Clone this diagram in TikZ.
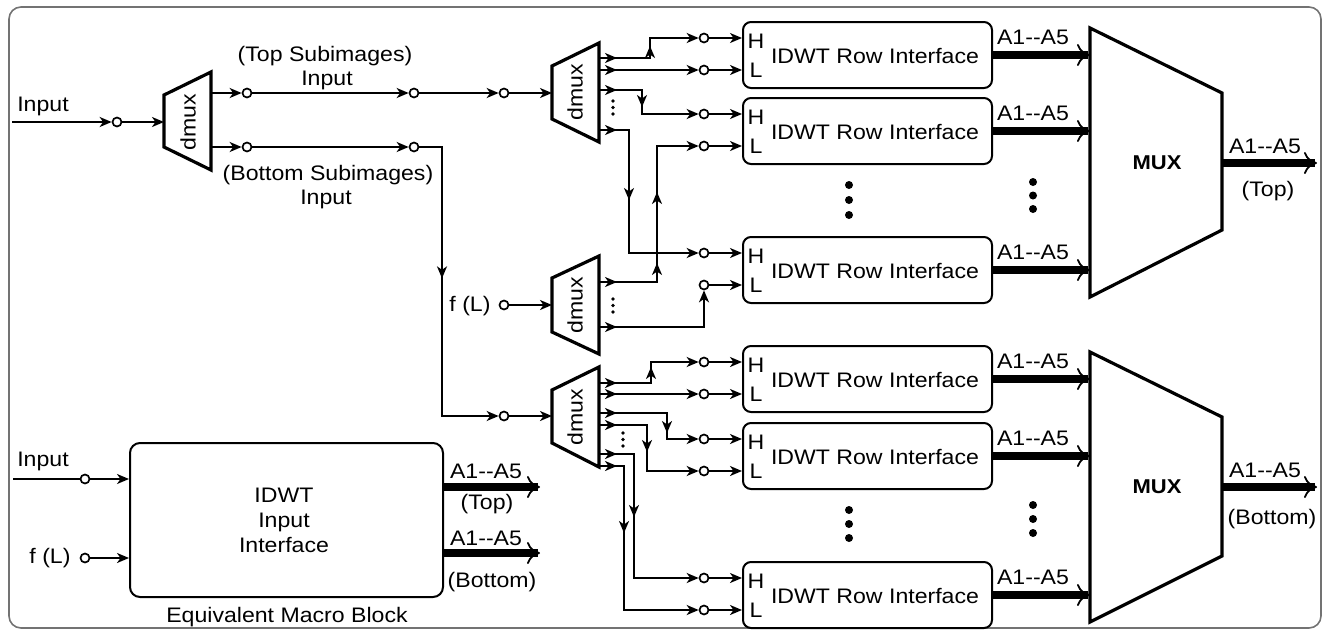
\documentclass[tikz,border=0pt]{standalone}
\usepackage{fontspec}
\setmainfont[FakeStretch=1.1]{Liberation Sans}
\usetikzlibrary{arrows.meta,decorations.markings}

\tikzset{
  wire/.style={line width=1.8pt},
  arr/.style={wire,-{Stealth[length=12pt,width=10pt,inset=3.5pt]}},
  am/.style={postaction={decorate,decoration={markings,
      mark=at position #1 with {\arrow{Stealth[length=12pt,width=10pt,inset=3.5pt]}}}}},
  port/.style={circle,draw,fill=white,line width=1.7pt,minimum size=9pt,inner sep=0pt},
  lbl/.style={font=\fontsize{21}{24}\selectfont,inner sep=0pt,anchor=base},
  rowbox/.style={draw,line width=2pt,rounded corners=8pt,minimum width=249pt,
      minimum height=66pt,inner sep=0pt},
  trap/.style={draw,line width=3.2pt,line join=miter},
  bus/.style={line width=8pt,-{Computer Modern Rightarrow[length=13pt,width=22pt,line width=1.8pt]}},
}

\begin{document}
\begin{tikzpicture}[x=1pt,y=-1pt]
\useasboundingbox (0,0) rectangle (1324,630);

% outer frame
\draw[black!55,line width=1.6pt,rounded corners=12pt] (9,7) rectangle (1321,628);

% ---------- first splitter ----------
\draw[trap] (164,95) -- (211,72) -- (211,170) -- (164,147) -- cycle;
\node[lbl,anchor=center,rotate=90] (dm1) at (188,122) {dmux};
\coordinate (in0) at (12,122);
\coordinate (dm1i) at (164,122);
\coordinate (dm1a) at (211,93);
\coordinate (dm1b) at (211,147);
\node[port] (c0) at (117,122) {};
\draw[arr] (in0) -- (c0);
\draw[arr] (c0) -- (dm1i);
\node[lbl] (tin) at (43,111) {Input};

% ---------- splitters feeding the row interfaces ----------
\draw[trap] (552,66) -- (599,43) -- (599,142) -- (552,119) -- cycle;
\node[lbl,anchor=center,rotate=90] (dm2) at (575,92) {dmux};
\draw[trap] (552,278) -- (599,256) -- (599,354) -- (552,332) -- cycle;
\node[lbl,anchor=center,rotate=90] (dm4) at (575,305) {dmux};
\draw[trap] (552,390) -- (599,367) -- (599,467) -- (552,443) -- cycle;
\node[lbl,anchor=center,rotate=90] (dm3) at (575,417) {dmux};

\coordinate (dm2i) at (552,93);
\coordinate (dm4i) at (552,305);
\coordinate (dm3i) at (552,416);

% top / bottom subimage paths
\node[port] (ct1) at (247,93) {};
\node[port] (ct2) at (414,93) {};
\node[port] (ct3) at (504,93) {};
\node[port] (cb1) at (247,147) {};
\node[port] (cb2) at (414,147) {};
\node[port] (cb3) at (504,416) {};
\draw[arr] (dm1a) -- (ct1);
\draw[arr] (ct1) -- (ct2);
\draw[arr] (ct2) -- (ct3);
\draw[arr] (ct3) -- (dm2i);
\draw[arr] (dm1b) -- (cb1);
\draw[arr] (cb1) -- (cb2);
\draw[arr,am=154pt] (cb2) -- (442,147) |- (cb3);
\draw[arr] (cb3) -- (dm3i);

\node[lbl] (lt1) at (325,61) {(Top Subimages)};
\node[lbl] (lt2) at (327,85) {Input};
\node[lbl] (lb1) at (328,180) {(Bottom Subimages)};
\node[lbl] (lb2) at (326,204) {Input};

% f(L) input
\node[port] (cf) at (504,305) {};
\node[lbl] (tf) at (470,311) {f (L)};
\draw[arr] (cf) -- (dm4i);

% ---------- row interfaces ----------
\coordinate (muxedge) at (1090,0);
\foreach \i/\t in {1/22,2/98,3/237,4/346,5/423,6/562} {
  \node[rowbox] (r\i) at (867.5,\t+33) {};
  \node[lbl] (r\i n) at (875,\t+41) {IDWT Row Interface};
  \node[lbl] (r\i H) at (756,\t+26) {H};
  \node[lbl] (r\i L) at (756,\t+55) {L};
  \node[port] (c\i h) at (704,\t+16) {};
  \node[port] (c\i l) at (704,\t+48) {};
  \draw[arr] (c\i h) -- (r\i.west |- c\i h);
  \draw[arr] (c\i l) -- (r\i.west |- c\i l);
  \draw[bus] (r\i.east) -- (r\i.east -| muxedge);
  \node[lbl] (r\i a) at (1033,\t+22) {A1-{}-A5};
}

% splitter outputs (upper group)
\coordinate (d2o1) at (599,58);
\coordinate (d2o2) at (599,70);
\coordinate (d2o3) at (599,90);
\coordinate (d2o4) at (599,130);
\draw[arr,am=18pt,am=63pt] (d2o1) -- (650,58) |- (c1h);
\draw[arr,am=18pt] (d2o2) -- (c1l);
\draw[arr,am=18pt,am=60pt] (d2o3) -- (642,90) |- (c2h);
\draw[arr,am=18pt,am=100pt] (d2o4) -- (629,130) |- (c3h);

\coordinate (d4o1) at (599,282);
\coordinate (d4o2) at (599,327);
\draw[arr,am=18pt,am=77pt,am=148pt] (d4o1) -- (657,282) |- (c2l);
\draw[arr,am=18pt] (d4o2) -| (c3l);

% splitter outputs (lower group)
\coordinate (d3o1) at (599,383);
\coordinate (d3o2) at (599,394);
\coordinate (d3o3) at (599,413);
\coordinate (d3o4) at (599,425);
\coordinate (d3o5) at (599,454);
\coordinate (d3o6) at (599,466);
\draw[arr,am=18pt,am=68pt] (d3o1) -- (651,383) |- (c4h);
\draw[arr,am=18pt] (d3o2) -- (c4l);
\draw[arr,am=18pt,am=88pt] (d3o3) -- (667,413) |- (c5h);
\draw[arr,am=18pt,am=75pt] (d3o4) -- (647,425) |- (c5l);
\draw[arr,am=18pt,am=98pt] (d3o5) -- (634,454) |- (c6h);
\draw[arr,am=18pt,am=92pt] (d3o6) -- (624,466) |- (c6l);

% small ellipses at the splitter outputs
\foreach \x/\y in {613/101,613/107.5,613/114,613/299,613/305.5,613/312,623/433,623/439.5,623/446}
  \fill (\x,\y) circle (1.8pt);

% large ellipses between rows
\foreach \x/\y in {849/185,849/200,849/215,1033/182,1033/195.5,1033/209,
                   849/510,849/524,849/538,1033/505,1033/519,1033/533}
  \fill (\x,\y) circle (4pt);

% ---------- multiplexers ----------
\draw[trap] (1090,28) -- (1222,93) -- (1222,230) -- (1090,297) -- cycle;
\node[lbl,anchor=center,font=\fontsize{20}{24}\selectfont\bfseries] (muxa) at (1157,163) {MUX};
\coordinate (muxao) at (1222,163);
\coordinate (outa) at (1317,163);
\draw[bus] (muxao) -- (outa);
\node[lbl] (oa1) at (1265,153) {A1-{}-A5};
\node[lbl] (oa2) at (1268,196) {(Top)};

\draw[trap] (1090,352) -- (1222,417) -- (1222,556) -- (1090,622) -- cycle;
\node[lbl,anchor=center,font=\fontsize{20}{24}\selectfont\bfseries] (muxb) at (1157,487) {MUX};
\coordinate (muxbo) at (1222,487);
\coordinate (outb) at (1317,487);
\draw[bus] (muxbo) -- (outb);
\node[lbl] (ob1) at (1265,477) {A1-{}-A5};
\node[lbl] (ob2) at (1272,524) {(Bottom)};

% ---------- equivalent macro block ----------
\node[draw,line width=2pt,rounded corners=10pt,minimum width=313pt,minimum height=154pt,
      inner sep=0pt] (mb) at (286.5,520) {};
\node[lbl,anchor=center,align=center,font=\fontsize{21}{25}\selectfont] (mbt) at (284,520)
  {IDWT\\Input\\Interface};
\node[lbl] (mbcap) at (287,622) {Equivalent Macro Block};

\coordinate (mbin) at (13,479);
\node[port] (mbc1) at (85,479) {};
\node[port] (mbc2) at (85,558) {};
\draw[wire] (mbin) -- (mbc1);
\draw[arr] (mbc1) -- (mb.west |- mbc1);
\draw[arr] (mbc2) -- (mb.west |- mbc2);
\node[lbl] (mbl1) at (43,466) {Input};
\node[lbl] (mbl2) at (50,563) {f (L)};

\coordinate (mbot) at (540,487);
\coordinate (mbob) at (540,553);
\draw[bus] (mb.east |- mbot) -- (mbot);
\draw[bus] (mb.east |- mbob) -- (mbob);
\node[lbl] (mba1) at (486,478) {A1-{}-A5};
\node[lbl] (mba2) at (487,509) {(Top)};
\node[lbl] (mbb1) at (486,545) {A1-{}-A5};
\node[lbl] (mbb2) at (492,587) {(Bottom)};
\end{tikzpicture}
\end{document}
